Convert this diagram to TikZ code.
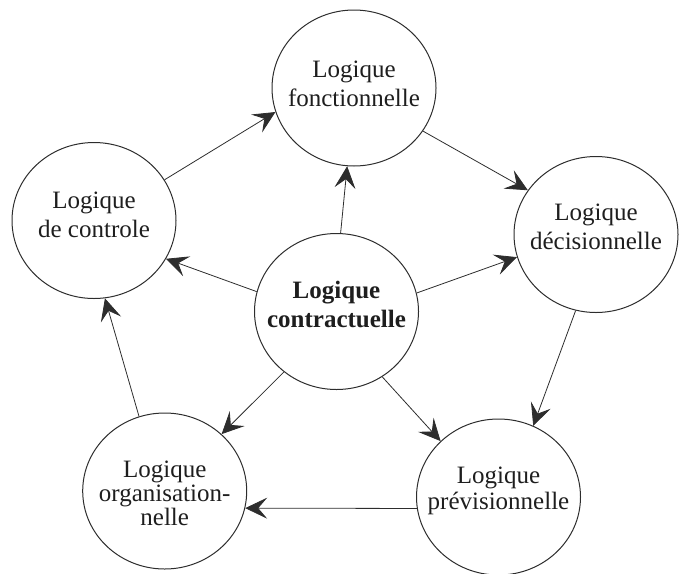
\documentclass[tikz,border=0pt]{standalone}
\usepackage{fontspec}
\setmainfont{Liberation Serif}
\usetikzlibrary{shapes.geometric,arrows.meta}
\definecolor{ink}{RGB}{45,45,45}
\definecolor{textink}{RGB}{30,30,30}
% centred multi-line label with no size of its own, raised by #1
\newcommand\lbl[2][0pt]{\raisebox{#1}[0pt][0pt]{\makebox[0pt]{\begin{tabular}{@{}c@{}}#2\end{tabular}}}}
\begin{document}
\begin{tikzpicture}[x=1pt,y=-1pt,
  logic/.style={ellipse, draw=ink, line width=1pt, minimum width=164pt,
    minimum height=156pt, inner sep=0pt, text=textink,
    font=\fontsize{25}{29}\selectfont},
  link/.style={draw=ink, line width=0.8pt,
    -{Stealth[length=22pt,width=21pt,inset=9pt]}}]
\useasboundingbox (0,0) rectangle (684,573);

\node[logic] (fon) at (354,88)      {\lbl[-4.3pt]{Logique\\fonctionnelle}};
\node[logic] (ctl) at (94,220.5)    {\lbl[-2.8pt]{Logique\\de controle}};
\node[logic] (dec) at (596,234.5)   {\lbl[-1.3pt]{Logique\\décisionnelle}};
\node[logic] (con) at (336.5,311.5) {\lbl[-2.3pt]{\bfseries Logique\\\bfseries contractuelle}};
\node[logic, font=\fontsize{25}{23.5}\selectfont]
             (org) at (164.7,491)   {\lbl[-11.9pt]{Logique\\organisation-\\nelle}};
\node[logic, font=\fontsize{25}{26}\selectfont]
             (pre) at (498.5,497)   {\lbl[-0.4pt]{Logique\\prévisionnelle}};

% outer cycle
\draw[link] (ctl.30)   -- (fon.197);
\draw[link] (fon.-32)  -- (dec.147);
\draw[link] (dec.-105) -- (pre.64);
\draw[link] (pre.188)  -- (org.-12);
\draw[link] (org.109)  -- (ctl.-82);

% spokes from the centre
\draw[link] (con.87)   -- (fon.-95);
\draw[link] (con.166)  -- (ctl.-28);
\draw[link] (con.13)   -- (dec.-164);
\draw[link] (con.-55)  -- (pre.136);
\draw[link] (con.-131) -- (org.45);
\end{tikzpicture}
\end{document}
